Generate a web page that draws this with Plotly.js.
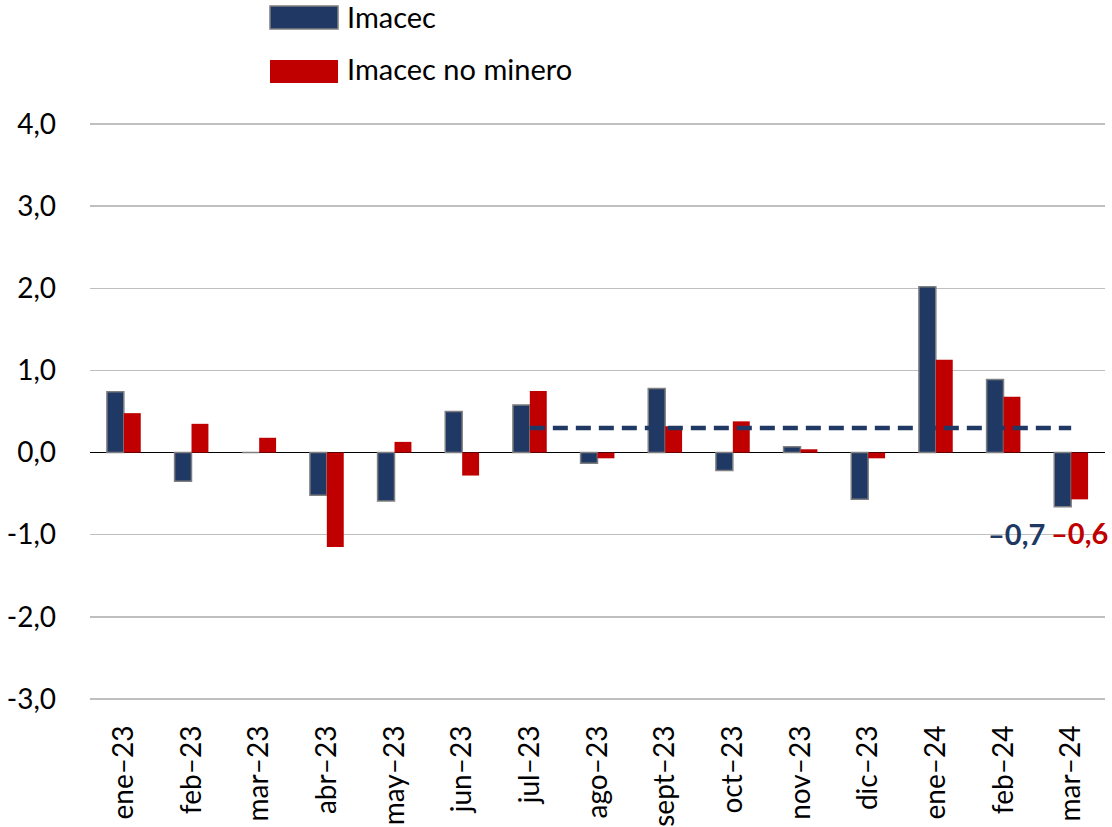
<!DOCTYPE html>
<html>
<head>
<meta charset="utf-8">
<script src="https://cdn.plot.ly/plotly-3.0.1.min.js"></script>
<style>html,body{margin:0;padding:0;background:#fff;}#chart{width:1112px;height:827px;}</style>
</head>
<body>
<div id="chart"></div>
<script>
// ---- data ----
const months = ['ene–23','feb–23','mar–23','abr–23','may–23','jun–23','jul–23','ago–23','sept–23','oct–23','nov–23','dic–23','ene–24','feb–24','mar–24'];
const imacec = [0.74, -0.35, 0.0, -0.52, -0.59, 0.50, 0.58, -0.13, 0.78, -0.22, 0.07, -0.57, 2.02, 0.89, -0.66];
const imacecNoMinero = [0.48, 0.35, 0.18, -1.15, 0.13, -0.28, 0.75, -0.07, 0.32, 0.38, 0.04, -0.07, 1.13, 0.68, -0.57];
const promedio = [null, null, null, null, null, null, 0.30, 0.30, 0.30, 0.30, 0.30, 0.30, 0.30, 0.30, 0.30];
const yTickVals = [-3, -2, -1, 0, 1, 2, 3, 4];
const yTickText = ['-3,0','-2,0','-1,0','0,0','1,0','2,0','3,0','4,0'];
const seriesNames = ['Imacec', 'Imacec no minero'];

// ---- style ----
const NAVY = '#203864';
const RED = '#c00000';
const FONT = 'Lato, "Open Sans", sans-serif';

// plot-area geometry (pixels) for legend placement
const L = 90, T = 120, W = 1015, H = 583;
const px = v => (v - L) / W;
const py = v => (T + H - v) / H;

function fmt(v) {
  const s = Math.abs(v).toFixed(1).replace('.', ',');
  return (v < 0 ? '–' : '') + s;
}

const traces = [
  {
    type: 'bar', x: months, y: imacec, name: seriesNames[0],
    marker: {color: NAVY, line: {color: '#7f7f7f', width: 1.5}},
    showlegend: false, hoverinfo: 'x+y'
  },
  {
    type: 'bar', x: months, y: imacecNoMinero, name: seriesNames[1],
    marker: {color: RED, line: {color: RED, width: 0}},
    showlegend: false, hoverinfo: 'x+y'
  },
  {
    type: 'scatter', mode: 'lines', x: months, y: promedio,
    line: {color: NAVY, width: 4.5, dash: '15px,8px'},
    showlegend: false, hoverinfo: 'skip', connectgaps: false
  }
];

const last = months.length - 1;
const annotations = [
  {xref: 'x', yref: 'y', x: months[last], y: -0.99, xshift: -55, text: '<b>' + fmt(imacec[last]) + '</b>',
   showarrow: false, font: {family: FONT, size: 29, color: NAVY}, xanchor: 'center', yanchor: 'middle'},
  {xref: 'x', yref: 'y', x: months[last], y: -0.97, xshift: 8, text: '<b>' + fmt(imacecNoMinero[last]) + '</b>',
   showarrow: false, font: {family: FONT, size: 29, color: RED}, xanchor: 'center', yanchor: 'middle'},
  {xref: 'paper', yref: 'paper', x: px(345), y: py(16), text: seriesNames[0], showarrow: false,
   xanchor: 'left', yanchor: 'middle', font: {family: FONT, size: 29, color: '#000'}},
  {xref: 'paper', yref: 'paper', x: px(345), y: py(68), text: seriesNames[1], showarrow: false,
   xanchor: 'left', yanchor: 'middle', font: {family: FONT, size: 29, color: '#000'}}
];

const shapes = [
  {type: 'rect', xref: 'paper', yref: 'paper', x0: px(270), x1: px(338), y0: py(29), y1: py(6),
   fillcolor: NAVY, line: {color: '#7f7f7f', width: 1.5}},
  {type: 'rect', xref: 'paper', yref: 'paper', x0: px(270), x1: px(338), y0: py(83), y1: py(60),
   fillcolor: RED, line: {width: 0}}
];

const layout = {
  width: 1112, height: 827,
  margin: {l: L, r: 1112 - L - W, t: T, b: 827 - T - H, pad: 0},
  paper_bgcolor: '#fff', plot_bgcolor: '#fff',
  barmode: 'group', bargap: 0.5, bargroupgap: 0,
  showlegend: false,
  font: {family: FONT, size: 28, color: '#000'},
  xaxis: {
    type: 'category', tickangle: -90, showgrid: false, zeroline: false,
    showline: false, ticks: '', tickfont: {family: FONT, size: 28, color: '#000'},
    ticklabelstandoff: 16, range: [-0.5, 14.5], fixedrange: true
  },
  yaxis: {
    range: [-3.05, 4.05], tickvals: yTickVals, ticktext: yTickText,
    showgrid: true, gridcolor: '#bfbfbf', gridwidth: 1.5,
    zeroline: true, zerolinecolor: '#000', zerolinewidth: 1.5,
    showline: false, ticks: '', ticklabelstandoff: 33,
    tickfont: {family: FONT, size: 28, color: '#000'}, fixedrange: true
  },
  annotations: annotations,
  shapes: shapes
};

Plotly.newPlot('chart', traces, layout, {displayModeBar: false, staticPlot: true});
</script>
</body>
</html>
